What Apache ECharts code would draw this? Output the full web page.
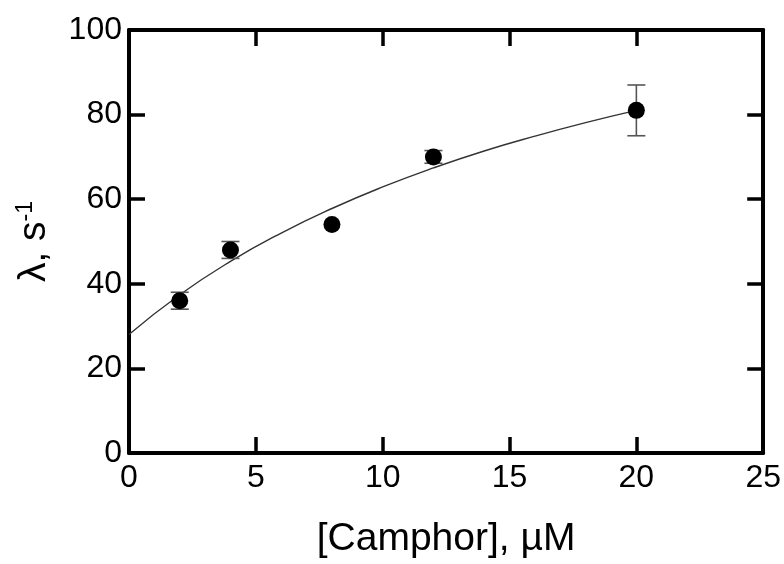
<!DOCTYPE html>
<html><head><meta charset="utf-8">
<script src="https://cdn.jsdelivr.net/npm/echarts@6/dist/echarts.min.js"></script>
<style>html,body{margin:0;padding:0;background:#fff}#c{width:784px;height:564px}</style>
</head><body><div id="c"></div>
<script>
// Data
const camphor = [2, 4, 8, 12, 20];
const rate = [36, 48, 54, 70, 81];
const rateErr = [2, 2, 0, 1.5, 6];
const fitX = [0, 2, 4, 6, 8, 10, 12, 14, 16, 18, 20];
const fitY = [28, 37.4, 45.3, 52, 57.8, 62.9, 67.4, 71.4, 74.9, 78.1, 81];
const xTicks = [0, 5, 10, 15, 20, 25];
const yTicks = [0, 20, 40, 60, 80, 100];

const font = 'Liberation Sans, Arial, sans-serif';
const chart = echarts.init(document.getElementById('c'));
const pts = camphor.map((x, i) => [x, rate[i]]);
const errData = camphor.map((x, i) => [x, rate[i] - rateErr[i], rate[i] + rateErr[i]]).filter(d => d[2] > d[1]);
const fitData = fitX.map((x, i) => [x, fitY[i]]);

const axisLine = {show: true, onZero: false, lineStyle: {color: '#000', width: 4}};
const tick = {show: true, inside: true, length: 16, lineStyle: {color: '#000', width: 3.5}};

chart.setOption({
  animation: false,
  grid: {left: 129, right: 20, top: 30, bottom: 111, containLabel: false},
  xAxis: [{
    type: 'value', min: xTicks[0], max: xTicks[xTicks.length - 1], interval: 5,
    axisLine, axisTick: tick, splitLine: {show: false},
    axisLabel: {fontFamily: font, fontSize: 32, color: '#000', margin: 9},
    name: '[Camphor], \u00B5M', nameLocation: 'middle', nameGap: 67,
    nameTextStyle: {fontFamily: font, fontSize: 39, color: '#000'}
  }, {
    type: 'value', position: 'top', min: 0, max: 25, interval: 5,
    axisLine, axisTick: tick, axisLabel: {show: false}, splitLine: {show: false}
  }],
  yAxis: [{
    type: 'value', min: yTicks[0], max: yTicks[yTicks.length - 1], interval: 20,
    axisLine, axisTick: tick, splitLine: {show: false},
    axisLabel: {fontFamily: font, fontSize: 32, color: '#000', margin: 7},
    name: '{a|\u03BB, s}{b|-1}', nameLocation: 'middle', nameGap: 74, nameRotate: 90,
    nameTextStyle: {fontFamily: font, fontSize: 39, color: '#000',
      rich: {a: {fontFamily: font, fontSize: 39, color: '#000'},
             b: {fontFamily: font, fontSize: 23, color: '#000', verticalAlign: 'top', padding: [0, 0, 18, 0]}}}
  }, {
    type: 'value', position: 'right', min: 0, max: 100, interval: 20,
    axisLine, axisTick: tick, axisLabel: {show: false}, splitLine: {show: false}
  }],
  series: [{
    type: 'line', data: fitData, smooth: true, showSymbol: false,
    lineStyle: {color: '#333', width: 1.4}, z: 2
  }, {
    type: 'custom', data: errData, z: 3,
    renderItem: function (params, api) {
      const x = api.value(0);
      const lo = api.coord([x, api.value(1)]);
      const hi = api.coord([x, api.value(2)]);
      const w = 9;
      const st = {stroke: '#555', lineWidth: 1.6};
      return {type: 'group', children: [
        {type: 'line', shape: {x1: lo[0], y1: lo[1], x2: hi[0], y2: hi[1]}, style: st},
        {type: 'line', shape: {x1: lo[0] - w, y1: lo[1], x2: lo[0] + w, y2: lo[1]}, style: st},
        {type: 'line', shape: {x1: hi[0] - w, y1: hi[1], x2: hi[0] + w, y2: hi[1]}, style: st}
      ]};
    }
  }, {
    type: 'scatter', data: pts, symbol: 'circle', symbolSize: 17,
    itemStyle: {color: '#000', opacity: 1}, z: 4
  }]
});
</script></body></html>
